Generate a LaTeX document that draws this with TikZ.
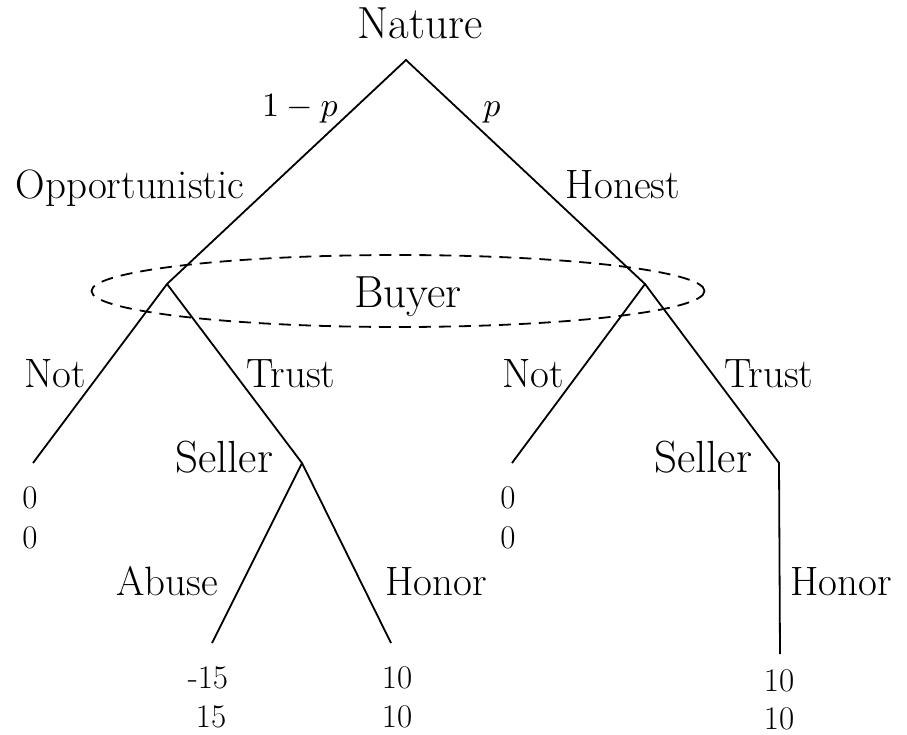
\documentclass[tikz,border=0pt]{standalone}
\usepackage{graphicx}
\usepackage{fontspec}
\begin{document}
\begin{tikzpicture}[x=1pt,y=-1pt,
  edge/.style={line width=1.8pt},
  player/.style={inner sep=0pt,anchor=base,font=\fontsize{45}{54}\selectfont},
  action/.style={inner sep=0pt,anchor=base,font=\fontsize{41}{49}\selectfont},
  payoff/.style={inner sep=0pt,anchor=base,font=\fontsize{33}{40}\selectfont},
  prob/.style={inner sep=0pt,font=\normalsize},
  info/.style={line width=1.8pt,dash pattern=on 12pt off 8pt}]
\useasboundingbox (0,0) rectangle (907,734);
% vertices
\coordinate (root) at (406,60);
\coordinate (bl) at (167,284);
\coordinate (br) at (645,284);
\coordinate (sl) at (302,463);
\coordinate (sr) at (779,463);
\coordinate (tl1) at (33,463);
\coordinate (tr1) at (512,463);
\coordinate (ta) at (212,643);
\coordinate (th) at (391,643);
\coordinate (trh) at (780,654);
% edges
\draw[edge] (tl1) -- (bl) -- (root) -- (br) -- (tr1);
\draw[edge] (bl) -- (sl) -- (ta);
\draw[edge] (sl) -- (th);
\draw[edge] (br) -- (sr) -- (trh);
% information set
\draw[info] (398,291) ellipse [x radius=306.5, y radius=36];
% player labels
\node[player] (nature) at (420,38) {Nature};
\node[player] (buyer) at (408,307) {Buyer};
\node[player] (sellerl) at (224,472) {Seller};
\node[player] (sellerr) at (703,472) {Seller};
% probabilities
\node[prob,anchor=base east] (pl) at (338,116) {\scalebox{3.4}{$1-p$}};
\node[prob,anchor=base] (pr) at (492,116) {\scalebox{3.4}{$p$}};
% action labels
\node[action] (opp) at (130,198) {Opportunistic};
\node[action] (hon) at (623,198) {Honest};
\node[action] (notl) at (55,387) {Not};
\node[action] (trustl) at (291,387) {Trust};
\node[action] (notr) at (533,387) {Not};
\node[action] (trustr) at (769,387) {Trust};
\node[action] (abuse) at (167,595) {Abuse};
\node[action] (honorl) at (436,595) {Honor};
\node[action] (honorr) at (841,595) {Honor};
% payoffs
\node[payoff] (p1a) at (30,508) {0};
\node[payoff] (p1b) at (30,548) {0};
\node[payoff] (p2a) at (508,508) {0};
\node[payoff] (p2b) at (508,548) {0};
\node[payoff] (p3a) at (208,688) {-15};
\node[payoff] (p3b) at (211,727) {15};
\node[payoff] (p4a) at (397,688) {10};
\node[payoff] (p4b) at (397,727) {10};
\node[payoff] (p5a) at (779,691) {10};
\node[payoff] (p5b) at (779,729) {10};
\end{tikzpicture}
\end{document}
